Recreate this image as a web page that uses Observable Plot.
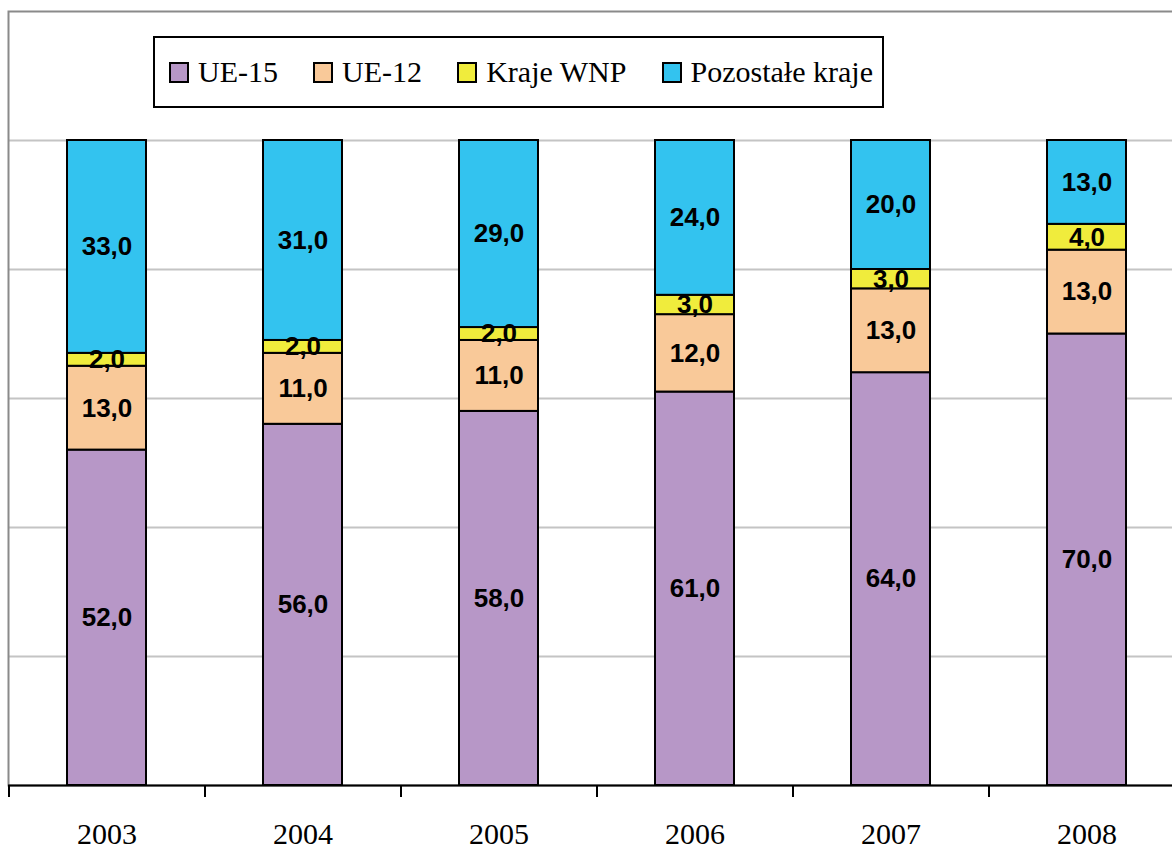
<!DOCTYPE html>
<html>
<head>
<meta charset="utf-8">
<script src="https://cdn.jsdelivr.net/npm/d3@7"></script>
<script src="https://cdn.jsdelivr.net/npm/@observablehq/plot@0.6"></script>
<style>
  html, body { margin: 0; padding: 0; background: #fff; overflow: hidden; }
  #wrap { position: relative; width: 1172px; height: 846px; overflow: hidden; }
  #legend {
    position: absolute; left: 153px; top: 36px; width: 704px; height: 68px;
    border: 2px solid #000; background: #fff;
    display: flex; align-items: center; justify-content: space-between;
    padding-left: 14px; padding-right: 9px; box-sizing: content-box;
    font-family: "Liberation Serif", "Times New Roman", serif; font-size: 30px; color: #000;
  }
  .item { display: flex; align-items: center; white-space: nowrap; }
  .sw { width: 16px; height: 17px; border: 2px solid #000; margin-right: 9px; }
</style>
</head>
<body>
<div id="wrap"></div>
<script>
const years = ["2003", "2004", "2005", "2006", "2007", "2008"];
const seriesNames = ["UE-15", "UE-12", "Kraje WNP", "Pozostałe kraje"];
const seriesColors = ["#B797C7", "#F9C999", "#F0EC3C", "#33C3EF"];
const ue15 = [52, 56, 58, 61, 64, 70];
const ue12 = [13, 11, 11, 12, 13, 13];
const wnp = [2, 2, 2, 3, 3, 4];
const pozostale = [33, 31, 29, 24, 20, 13];
const yTicks = [0, 20, 40, 60, 80, 100, 120];

const seriesValues = [ue15, ue12, wnp, pozostale];
const data = [];
seriesNames.forEach((s, i) => {
  years.forEach((y, j) => data.push({year: y, series: s, value: seriesValues[i][j]}));
});

const fmt = v => v.toFixed(1).replace(".", ",");
const marginLeft = 8, step = 196;
const plotWidth = marginLeft + step * years.length;

const chart = Plot.plot({
  width: plotWidth,
  height: 846,
  marginLeft: marginLeft,
  marginRight: 0,
  marginTop: 11,
  marginBottom: 61,
  x: {domain: years, paddingInner: 0.597, paddingOuter: 0.2985, axis: null, label: null},
  y: {domain: [0, 120], axis: null},
  color: {domain: seriesNames, range: seriesColors},
  marks: [
    Plot.ruleY(yTicks.filter(t => t > 0 && t < 120), {stroke: "#c4c4c4", strokeWidth: 2}),
    Plot.frame({stroke: "#8a8a8a", strokeWidth: 2}),
    Plot.barY(data, Plot.stackY({x: "year", y: "value", fill: "series", stroke: "#000", strokeWidth: 2})),
    Plot.text(data, Plot.stackY({
      x: "year", y: "value", z: "series", text: d => fmt(d.value),
      fontFamily: "'Liberation Sans', Arial, sans-serif", fontWeight: "bold", fontSize: 26, fill: "#000"
    })),
    Plot.ruleY([0], {stroke: "#000", strokeWidth: 2}),
    Plot.axisX({tickSize: 12, dx: -step / 2, text: null, label: null, stroke: "#000", strokeWidth: 2}),
    Plot.axisX({tickSize: 0, tickPadding: 37, label: null, fontSize: 30, fontFamily: "'Liberation Serif', 'Times New Roman', serif", fill: "#000"})
  ]
});
chart.style.display = "block";
chart.style.maxWidth = "none";
chart.style.width = plotWidth + "px";
chart.style.height = "846px";
const wrap = document.getElementById("wrap");
wrap.appendChild(chart);

const legend = document.createElement("div");
legend.id = "legend";
seriesNames.forEach((s, i) => {
  const item = document.createElement("div");
  item.className = "item";
  const sw = document.createElement("div");
  sw.className = "sw";
  sw.style.background = seriesColors[i];
  const t = document.createElement("span");
  t.textContent = s;
  item.appendChild(sw);
  item.appendChild(t);
  legend.appendChild(item);
});
wrap.appendChild(legend);
</script>
</body>
</html>
